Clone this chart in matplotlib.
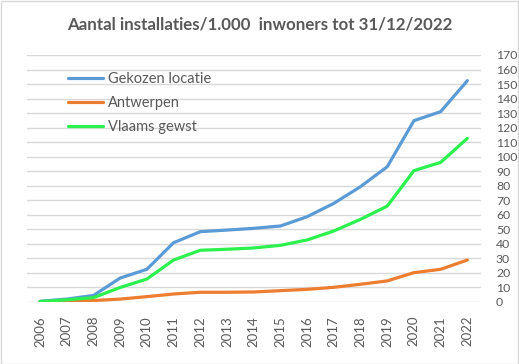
import matplotlib
matplotlib.use("Agg")
import matplotlib.pyplot as plt
from matplotlib.patches import Rectangle

years = [str(y) for y in range(2006, 2023)]
gekozen = [0.5, 2, 4.5, 16.5, 22.5, 40.8, 48.4, 49.5, 50.7, 52.3, 58.7, 67.9, 79.4, 93.1, 124.8, 131, 152.3]
antwerpen = [0.2, 0.5, 1, 2, 3.7, 5.5, 6.7, 6.7, 6.9, 7.8, 8.7, 10.1, 12.2, 14.5, 20.2, 22.5, 28.9]
vlaams = [0.3, 1.5, 3, 10, 15.8, 28.9, 35.6, 36.3, 37.2, 39, 42.7, 48.9, 56.9, 66, 90.4, 96.1, 112.6]
yticks = list(range(0, 171, 10))

TXT = "#595959"
FONT = "Lato"

fig = plt.figure(figsize=(5.19, 3.64), dpi=100)
fig.patches.append(Rectangle((0.5/519, 0.5/364), 1 - 1.5/519, 1 - 1.5/364, transform=fig.transFigure,
                             fill=False, edgecolor="#D9D9D9", linewidth=1))
ax = fig.add_axes([26.7/519, 62/364, (480.7-26.7)/519, 247/364])

x = list(range(len(years)))
ax.plot(x, gekozen, color="#5B9BD5", lw=2.3, label="Gekozen locatie", solid_capstyle="round")
ax.plot(x, antwerpen, color="#ED7D31", lw=2.3, label="Antwerpen", solid_capstyle="round")
ax.plot(x, vlaams, color="#2BF04E", lw=2.3, label="Vlaams gewst", solid_capstyle="round")

ax.set_xlim(-0.5, len(years) - 0.5)
ax.set_ylim(0, 170)
ax.set_yticks(yticks)
ax.set_xticks(x)
ax.set_xticklabels(years, rotation=90, fontsize=9.5, color=TXT, family=FONT)
ax.yaxis.tick_right()
ax.set_yticklabels([str(t) for t in yticks], fontsize=8.8, color=TXT, family=FONT, ha="left")
ax.tick_params(axis="y", length=0, pad=11)
ax.tick_params(axis="x", length=0, pad=10)
ax.grid(axis="y", color="#D9D9D9", lw=1)
ax.set_axisbelow(True)
for s in ax.spines.values():
    s.set_visible(False)

leg = ax.legend(loc="upper left", bbox_to_anchor=(41/454, (302-72)/247), frameon=False,
                prop={"family": FONT, "size": 10.5}, handlelength=2.4, handletextpad=0.35,
                labelspacing=0.7, borderpad=0, borderaxespad=0)
for t in leg.get_texts():
    t.set_color(TXT)

fig.text(260/519, 1 - 24/364, "Aantal installaties/1.000  inwoners tot 31/12/2022", ha="center", va="center",
         fontsize=12.2, fontweight="bold", color=TXT, family=FONT)

fig.savefig("out.png", dpi=100)
